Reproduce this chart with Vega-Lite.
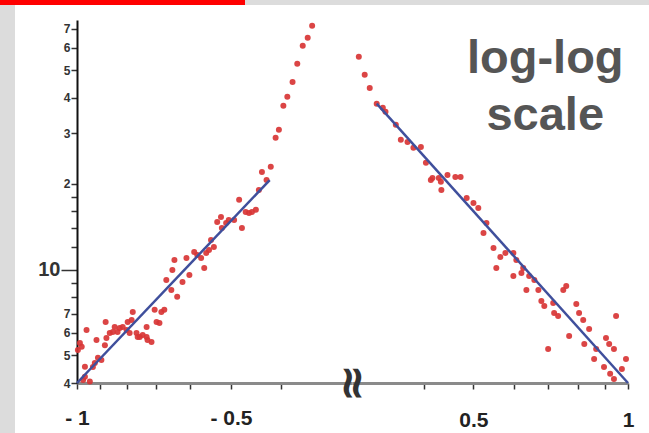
{
  "$schema": "https://vega.github.io/schema/vega-lite/v6.json",
  "background": "#dcdcdc",
  "padding": 0,
  "spacing": 0,
  "datasets": {
    "points": [
      {"x": -0.996, "y": 5.22}, {"x": -0.987, "y": 5.52}, {"x": -0.979, "y": 5.36}, {"x": -0.973, "y": 4.10},
      {"x": -0.965, "y": 4.56}, {"x": -0.965, "y": 4.21}, {"x": -0.958, "y": 6.14}, {"x": -0.944, "y": 4.05},
      {"x": -0.931, "y": 4.55}, {"x": -0.923, "y": 4.70}, {"x": -0.916, "y": 5.66}, {"x": -0.910, "y": 4.90},
      {"x": -0.896, "y": 4.82}, {"x": -0.879, "y": 6.54}, {"x": -0.882, "y": 5.43}, {"x": -0.876, "y": 5.75},
      {"x": -0.863, "y": 5.99}, {"x": -0.851, "y": 6.04}, {"x": -0.844, "y": 6.29}, {"x": -0.833, "y": 6.04},
      {"x": -0.825, "y": 6.24}, {"x": -0.814, "y": 6.29}, {"x": -0.800, "y": 6.14}, {"x": -0.796, "y": 6.54},
      {"x": -0.782, "y": 6.65}, {"x": -0.778, "y": 7.10}, {"x": -0.789, "y": 5.99}, {"x": -0.765, "y": 5.99},
      {"x": -0.761, "y": 5.80}, {"x": -0.754, "y": 5.80}, {"x": -0.744, "y": 5.89}, {"x": -0.731, "y": 5.80},
      {"x": -0.728, "y": 5.66}, {"x": -0.715, "y": 5.57}, {"x": -0.731, "y": 6.29}, {"x": -0.705, "y": 7.22},
      {"x": -0.699, "y": 6.54}, {"x": -0.690, "y": 6.49}, {"x": -0.684, "y": 7.10}, {"x": -0.675, "y": 7.22},
      {"x": -0.669, "y": 9.19}, {"x": -0.654, "y": 8.48}, {"x": -0.651, "y": 9.97}, {"x": -0.645, "y": 10.81},
      {"x": -0.637, "y": 8.02}, {"x": -0.622, "y": 9.05}, {"x": -0.611, "y": 10.98}, {"x": -0.603, "y": 9.57},
      {"x": -0.590, "y": 11.53}, {"x": -0.582, "y": 11.25}, {"x": -0.572, "y": 10.98}, {"x": -0.564, "y": 10.13},
      {"x": -0.559, "y": 11.43}, {"x": -0.552, "y": 11.71}, {"x": -0.547, "y": 12.70}, {"x": -0.540, "y": 12.00},
      {"x": -0.532, "y": 14.69}, {"x": -0.523, "y": 15.29}, {"x": -0.521, "y": 13.99}, {"x": -0.511, "y": 14.57},
      {"x": -0.505, "y": 14.93}, {"x": -0.493, "y": 14.93}, {"x": -0.482, "y": 17.55}, {"x": -0.476, "y": 13.99},
      {"x": -0.468, "y": 15.92}, {"x": -0.461, "y": 15.80}, {"x": -0.455, "y": 15.92}, {"x": -0.447, "y": 16.19},
      {"x": -0.441, "y": 19.02}, {"x": -0.435, "y": 22.00}, {"x": -0.426, "y": 20.62}, {"x": -0.418, "y": 22.92},
      {"x": -0.409, "y": 28.96}, {"x": -0.403, "y": 30.89}, {"x": -0.395, "y": 37.49}, {"x": -0.388, "y": 40.32},
      {"x": -0.379, "y": 45.48}, {"x": -0.371, "y": 52.63}, {"x": -0.362, "y": 60.88}, {"x": -0.354, "y": 64.93},
      {"x": -0.347, "y": 71.56},
      {"x": 0.299, "y": 55.72}, {"x": 0.307, "y": 48.16}, {"x": 0.314, "y": 43.35}, {"x": 0.324, "y": 38.10},
      {"x": 0.333, "y": 36.89}, {"x": 0.337, "y": 35.72}, {"x": 0.353, "y": 32.17}, {"x": 0.361, "y": 28.49},
      {"x": 0.372, "y": 28.03}, {"x": 0.382, "y": 26.71}, {"x": 0.395, "y": 26.92}, {"x": 0.404, "y": 23.67},
      {"x": 0.413, "y": 20.62}, {"x": 0.416, "y": 20.96}, {"x": 0.428, "y": 20.96}, {"x": 0.432, "y": 20.30},
      {"x": 0.433, "y": 19.02}, {"x": 0.445, "y": 21.47}, {"x": 0.461, "y": 21.13}, {"x": 0.472, "y": 21.13},
      {"x": 0.485, "y": 17.83}, {"x": 0.500, "y": 17.12}, {"x": 0.511, "y": 16.44}, {"x": 0.523, "y": 13.43},
      {"x": 0.530, "y": 14.57}, {"x": 0.547, "y": 11.90}, {"x": 0.554, "y": 10.13}, {"x": 0.564, "y": 11.07},
      {"x": 0.577, "y": 11.43}, {"x": 0.598, "y": 11.43}, {"x": 0.598, "y": 9.49}, {"x": 0.606, "y": 10.81},
      {"x": 0.620, "y": 9.73}, {"x": 0.625, "y": 10.13}, {"x": 0.634, "y": 8.48}, {"x": 0.642, "y": 9.49},
      {"x": 0.657, "y": 9.19}, {"x": 0.669, "y": 8.48}, {"x": 0.678, "y": 7.76}, {"x": 0.687, "y": 7.45},
      {"x": 0.699, "y": 5.26}, {"x": 0.715, "y": 7.63}, {"x": 0.718, "y": 7.04}, {"x": 0.731, "y": 6.87},
      {"x": 0.748, "y": 8.48}, {"x": 0.758, "y": 8.76}, {"x": 0.768, "y": 5.85}, {"x": 0.793, "y": 7.57},
      {"x": 0.803, "y": 7.04}, {"x": 0.818, "y": 6.65}, {"x": 0.822, "y": 5.48}, {"x": 0.840, "y": 6.19},
      {"x": 0.859, "y": 4.86}, {"x": 0.867, "y": 5.26}, {"x": 0.898, "y": 4.55}, {"x": 0.906, "y": 5.75},
      {"x": 0.919, "y": 5.48}, {"x": 0.923, "y": 4.31}, {"x": 0.939, "y": 5.26}, {"x": 0.939, "y": 4.13},
      {"x": 0.948, "y": 6.87}, {"x": 0.973, "y": 4.48}, {"x": 0.991, "y": 4.86}
    ],
    "fits": [
      {"side": "left", "x": -1, "y": 4},
      {"side": "left", "x": -0.42, "y": 20.6},
      {"side": "right", "x": 0.324, "y": 38.2},
      {"side": "right", "x": 1, "y": 4}
    ]
  },
  "vconcat": [
    {
      "width": 245,
      "height": 5,
      "view": {"fill": "#ff0000", "stroke": null},
      "data": {"values": []},
      "mark": "point",
      "encoding": {}
    },
    {
      "spacing": 14,
      "hconcat": [
        {
          "width": 1,
          "height": 1,
          "view": {"stroke": null},
          "data": {"values": []},
          "mark": "point",
          "encoding": {}
        },
        {
          "width": 634,
          "height": 428,
          "view": {"fill": "white", "stroke": null},
          "resolve": {"scale": {"x": "independent"}, "axis": {"x": "independent"}},
          "encoding": {
            "y": {
              "field": "y",
              "type": "quantitative",
              "scale": {"type": "log", "domain": [4, 75], "range": [378, 15], "nice": false},
              "axis": {
                "orient": "left",
                "offset": -62,
                "title": null,
                "grid": false,
                "values": [4, 5, 6, 7, 8, 9, 10, 12, 14, 16, 18, 20, 30, 40, 50, 60, 70],
                "labelExpr": "datum.value == 10 ? '10' : (indexof([4,5,6,7], datum.value) >= 0 ? toString(datum.value) : (indexof([20,30,40,50,60,70], datum.value) >= 0 ? toString(datum.value / 10) : ''))",
                "labelFont": "Liberation Sans",
                "labelFontWeight": "bold",
                "labelFontSize": {"condition": {"test": "datum.value == 10", "value": 20}, "value": 12},
                "labelColor": "#333333",
                "labelPadding": 1,
                "labelFlush": false,
                "labelOverlap": false,
                "domainColor": "#111111",
                "domainWidth": 2,
                "tickColor": "#333333",
                "tickWidth": 1.5,
                "tickSize": {"condition": {"test": "datum.value == 10", "value": 16}, "value": 6}
              }
            }
          },
          "layer": [
            {
              "data": {"name": "points"},
              "transform": [{"filter": "datum.x < 0"}],
              "mark": {"type": "circle", "size": 36, "color": "#d83535", "opacity": 0.92},
              "encoding": {
                "x": {
                  "field": "x",
                  "type": "quantitative",
                  "scale": {"type": "log", "domain": [-1, -0.29], "range": [62, 337], "nice": false},
                  "axis": {
                    "orient": "bottom",
                    "offset": -50,
                    "title": null,
                    "grid": false,
                    "values": [-1, -0.9, -0.8, -0.7, -0.6, -0.5, -0.4],
                    "labelExpr": "datum.value == -1 ? '- 1' : (datum.value == -0.5 ? '- 0.5' : '')",
                    "labelFont": "Liberation Sans",
                    "labelFontWeight": "bold",
                    "labelFontSize": 21,
                    "labelColor": "#222222",
                    "labelPadding": 18,
                    "labelFlush": false,
                    "labelOverlap": false,
                    "domainColor": "#8a8a8a",
                    "domainWidth": 3,
                    "tickColor": "#333333",
                    "tickWidth": 1.5,
                    "tickSize": 6
                  }
                }
              }
            },
            {
              "data": {"name": "fits"},
              "transform": [{"filter": "datum.side == 'left'"}],
              "mark": {"type": "line", "color": "#3f4f9c", "strokeWidth": 2.5},
              "encoding": {
                "x": {
                  "field": "x",
                  "type": "quantitative",
                  "scale": {"type": "log", "domain": [-1, -0.29], "range": [62, 337], "nice": false},
                  "axis": null
                }
              }
            },
            {
              "data": {"name": "points"},
              "transform": [{"filter": "datum.x > 0"}],
              "mark": {"type": "circle", "size": 36, "color": "#d83535", "opacity": 0.92},
              "encoding": {
                "x": {
                  "field": "x",
                  "type": "quantitative",
                  "scale": {"type": "log", "domain": [0.29, 1], "range": [337, 613], "nice": false},
                  "axis": {
                    "orient": "bottom",
                    "offset": -50,
                    "title": null,
                    "grid": false,
                    "values": [0.4, 0.5, 0.6, 0.7, 0.8, 0.9, 1],
                    "labelExpr": "datum.value == 1 ? '1' : (datum.value == 0.5 ? '0.5' : '')",
                    "labelFont": "Liberation Sans",
                    "labelFontWeight": "bold",
                    "labelFontSize": 21,
                    "labelColor": "#222222",
                    "labelPadding": 20,
                    "labelFlush": false,
                    "labelOverlap": false,
                    "domainColor": "#8a8a8a",
                    "domainWidth": 3,
                    "tickColor": "#333333",
                    "tickWidth": 1.5,
                    "tickSize": 6
                  }
                }
              }
            },
            {
              "data": {"name": "fits"},
              "transform": [{"filter": "datum.side == 'right'"}],
              "mark": {"type": "line", "color": "#3f4f9c", "strokeWidth": 2.5},
              "encoding": {
                "x": {
                  "field": "x",
                  "type": "quantitative",
                  "scale": {"type": "log", "domain": [0.29, 1], "range": [337, 613], "nice": false},
                  "axis": null
                }
              }
            },
            {
              "data": {"values": [{"x": 0.29, "y": 4, "mark": "≈"}]},
              "mark": {"type": "text", "font": "DejaVu Sans", "fontWeight": "bold", "fontSize": 46, "angle": 90, "align": "center", "baseline": "middle", "color": "#333333"},
              "encoding": {
                "x": {
                  "field": "x",
                  "type": "quantitative",
                  "scale": {"type": "log", "domain": [0.29, 1], "range": [337, 613], "nice": false},
                  "axis": null
                },
                "text": {"field": "mark"}
              }
            },
            {
              "data": {"values": [{"x": 0.69, "y": 49, "caption": "log-log\nscale"}]},
              "mark": {"type": "text", "font": "Liberation Sans", "fontWeight": "bold", "fontSize": 47, "lineHeight": 57, "lineBreak": "\n", "align": "center", "baseline": "alphabetic", "color": "#555555"},
              "encoding": {
                "x": {
                  "field": "x",
                  "type": "quantitative",
                  "scale": {"type": "log", "domain": [0.29, 1], "range": [337, 613], "nice": false},
                  "axis": null
                },
                "text": {"field": "caption"}
              }
            }
          ]
        }
      ]
    }
  ]
}
